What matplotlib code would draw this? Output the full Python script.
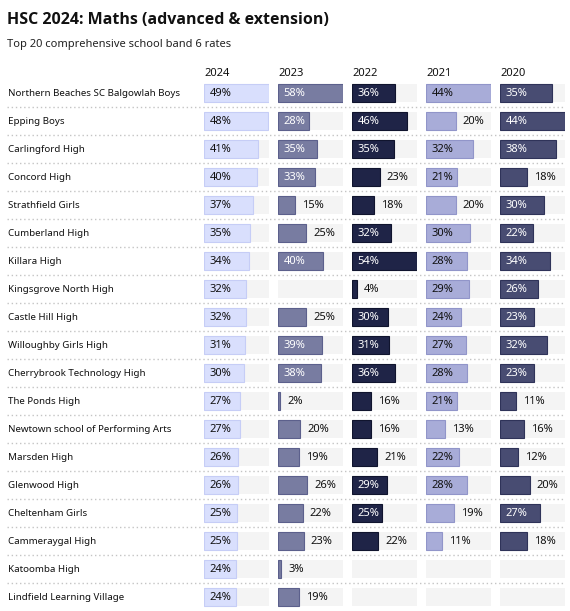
import matplotlib
matplotlib.use('Agg')
import matplotlib.pyplot as plt

plt.rcParams['font.family'] = ['Noto Sans', 'DejaVu Sans']

schools = ['Northern Beaches SC Balgowlah Boys', 'Epping Boys', 'Carlingford High',
           'Concord High', 'Strathfield Girls', 'Cumberland High', 'Killara High',
           'Kingsgrove North High', 'Castle Hill High', 'Willoughby Girls High',
           'Cherrybrook Technology High', 'The Ponds High',
           'Newtown school of Performing Arts', 'Marsden High', 'Glenwood High',
           'Cheltenham Girls', 'Cammeraygal High', 'Katoomba High',
           'Lindfield Learning Village']
years = ['2024', '2023', '2022', '2021', '2020']
v2024 = [49, 48, 41, 40, 37, 35, 34, 32, 32, 31, 30, 27, 27, 26, 26, 25, 25, 24, 24]
v2023 = [58, 28, 35, 33, 15, 25, 40, None, 25, 39, 38, 2, 20, 19, 26, 22, 23, 3, 19]
v2022 = [36, 46, 35, 23, 18, 32, 54, 4, 30, 31, 36, 16, 16, 21, 29, 25, 22, None, None]
v2021 = [44, 20, 32, 21, 20, 30, 28, 29, 24, 27, 28, 21, 13, 22, 28, 19, 11, None, None]
v2020 = [35, 44, 38, 18, 30, 22, 34, 26, 23, 32, 23, 11, 16, 12, 20, 27, 18, None, None]

columns = [v2024, v2023, v2022, v2021, v2020]
fills = ['#d9dffd', '#787ca1', '#1f2447', '#a8acd8', '#484c72']
edges = ['#c6cdf6', '#5c608c', '#10142e', '#9195c9', '#2f3359']
text_in = ['#111111', 'white', 'white', '#111111', 'white']

W, H = 570, 611
fig = plt.figure(figsize=(W / 100, H / 100), dpi=100)

fig.text(7 / W, 1 - 20 / H, 'HSC 2024: Maths (advanced & extension)',
         fontsize=11.5, fontweight='bold', family=['Open Sans', 'DejaVu Sans'],
         va='center', ha='left', color='#111111')
fig.text(7 / W, 1 - 45 / H, 'Top 20 comprehensive school band 6 rates',
         fontsize=8, va='center', ha='left', color='#222222')

n = len(schools)
top_px, bot_px = 93 - 14, 597 + 14
y0 = 1 - bot_px / H
h = (bot_px - top_px) / H

# table axes: row labels and separators
tab = fig.add_axes([0, y0, 1, h])
tab.set_xlim(0, 1)
tab.set_ylim(n - 0.5, -0.5)
tab.axis('off')
for i, name in enumerate(schools):
    tab.text(8 / W, i, name, fontsize=7, va='center', ha='left', color='#111111')
    if i < n - 1:
        tab.axhline(i + 0.5, xmin=7 / W, xmax=565 / W, color='#c4c4c4',
                    lw=1, ls=(0, (1, 2)))

for j, (yr, vals) in enumerate(zip(years, columns)):
    left = (204 + j * 74) / W
    ax = fig.add_axes([left, y0, 65 / W, h])
    vmax = max(v for v in vals if v is not None)
    ax.set_xlim(0, vmax)
    ax.set_ylim(n - 0.5, -0.5)
    ax.axis('off')
    ax.barh(range(n), [vmax] * n, height=18 / 28, color='#f4f4f4', lw=0)
    for i, v in enumerate(vals):
        if v is None:
            continue
        ax.barh(i, v, height=18 / 28 - 0.02, color=fills[j], edgecolor=edges[j], lw=0.8)
        if v / vmax >= 0.46:
            ax.annotate(f'{v}%', xy=(0, i), xytext=(4, 0), textcoords='offset points',
                        va='center', ha='left', fontsize=8, color=text_in[j])
        else:
            ax.annotate(f'{v}%', xy=(v, i), xytext=(5, 0), textcoords='offset points',
                        va='center', ha='left', fontsize=8, color='#111111')
    fig.text(left, 1 - 73 / H, yr, fontsize=8, va='center', ha='left', color='#111111')

fig.savefig('out.png', dpi=100)
